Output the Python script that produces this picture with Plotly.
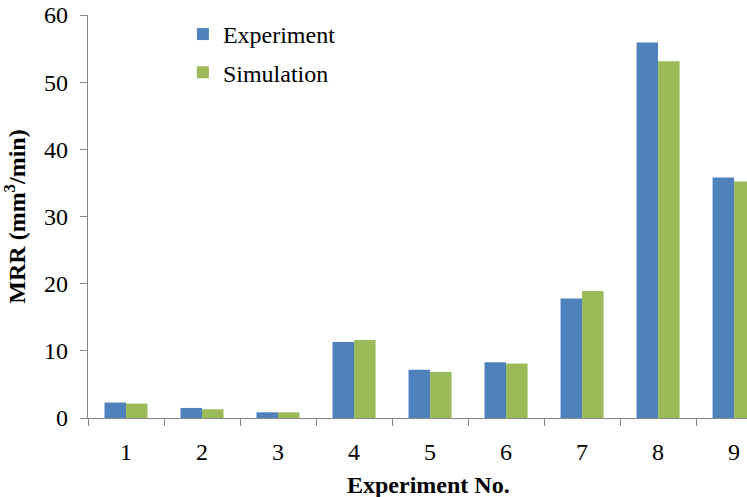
import plotly.graph_objects as go

categories = ["1", "2", "3", "4", "5", "6", "7", "8", "9"]
experiment = [2.3, 1.5, 0.85, 11.3, 7.2, 8.3, 17.8, 55.9, 35.8]
simulation = [2.15, 1.3, 0.85, 11.6, 6.85, 8.1, 18.9, 53.1, 35.2]
y_ticks = [0, 10, 20, 30, 40, 50, 60]

font_family = "Liberation Serif"
axis_color = "#868686"

fig = go.Figure()
fig.add_trace(go.Bar(x=categories, y=experiment, name="Experiment",
                     marker=dict(color="#4F81BD", line=dict(width=0)),
                     legendgroup="a"))
fig.add_trace(go.Bar(x=categories, y=simulation, name="Simulation",
                     marker=dict(color="#9BBB59", line=dict(width=0)),
                     legendgroup="b"))

fig.update_layout(
    width=747, height=497,
    margin=dict(l=88, r=0, t=15, b=79, pad=0),
    paper_bgcolor="white", plot_bgcolor="white",
    barmode="group", bargap=0.434, bargroupgap=0,
    font=dict(family=font_family, size=24, color="black"),
    legend=dict(x=0.144, y=1.0075, xanchor="left", yanchor="top",
                font=dict(family=font_family, size=24, color="black"),
                traceorder="grouped", tracegroupgap=4,
                bgcolor="rgba(0,0,0,0)"),
    showlegend=True,
    annotations=[dict(text="<b>Experiment No.</b>", xref="paper", yref="paper",
                      x=0.517, y=-0.166, xanchor="center", yanchor="middle",
                      showarrow=False, font=dict(family=font_family, size=24))],
)
fig.update_xaxes(
    type="category", range=[-0.5, 8.17],
    showline=True, linecolor=axis_color, linewidth=1.3,
    ticks="outside", tickson="boundaries", ticklen=7, tickcolor=axis_color,
    ticklabelstandoff=12,
    showgrid=False, zeroline=False,
    tickfont=dict(family=font_family, size=24),
)
fig.update_yaxes(
    range=[0, 60], tickvals=y_ticks,
    showline=True, linecolor=axis_color, linewidth=1.3,
    ticks="outside", ticklen=7, tickcolor=axis_color,
    ticklabelstandoff=7, ticklabeloverflow="allow",
    showgrid=False, zeroline=False,
    tickfont=dict(family=font_family, size=24),
    title=dict(text="<b>MRR (mm<sup>3</sup>/min)</b>", font=dict(family=font_family, size=24), standoff=20),
)

fig.write_html("out.html", config={"displayModeBar": False},
               post_script="document.body.style.margin='0';document.body.style.overflow='hidden';")
